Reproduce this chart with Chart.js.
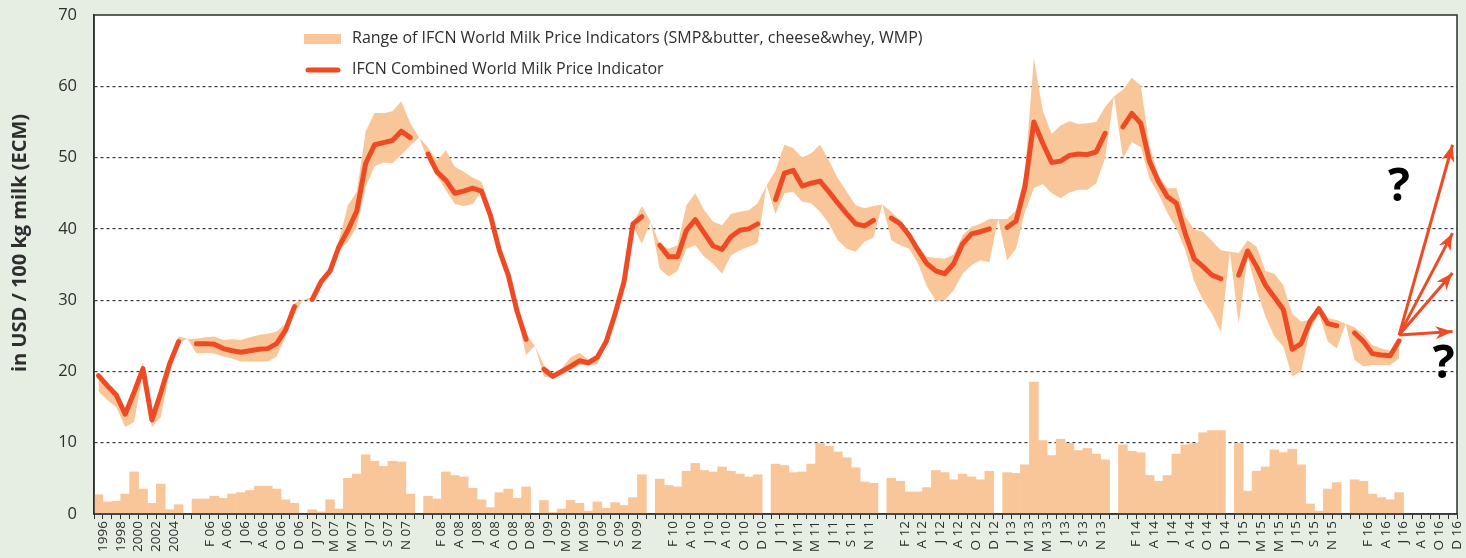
<!DOCTYPE html>
<html>
<head>
<meta charset="utf-8">
<script src="https://cdn.jsdelivr.net/npm/chart.js@4.4.1/dist/chart.umd.min.js"></script>
<style>
  html, body { margin: 0; padding: 0; background: #e6ede3; }
</style>
</head>
<body>
<canvas id="grafico" width="1466" height="558"></canvas>
<script>
// tick labels, one for every second tick of the month axis
const tickNames = [
  '1996', '1998', '2000', '2002', '2004', '',
  'F 06', 'A 06', 'J 06', 'A 06', 'O 06', 'D 06', 'J 07', 'M 07', 'M 07', 'J 07', 'S 07', 'N 07', '',
  'F 08', 'A 08', 'J 08', 'A 08', 'O 08', 'D 08', 'J 09', 'M 09', 'M 09', 'J 09', 'S 09', 'N 09', '',
  'F 10', 'A 10', 'J 10', 'A 10', 'O 10', 'D 10', 'J 11', 'M 11', 'M 11', 'J 11', 'S 11', 'N 11', '',
  'F 12', 'A 12', 'J 12', 'A 12', 'O 12', 'D 12', 'J 13', 'M 13', 'M 13', 'J 13', 'S 13', 'N 13', '',
  'F 14', 'A 14', 'J 14', 'A 14', 'O 14', 'D 14', 'J 15', 'M 15', 'M 15', 'J 15', 'S 15', 'N 15', '',
  'F 16', 'A 16', 'J 16', 'A 16', 'O 16', 'D 16'
];

// spread between indicators (bars at the bottom)
const spread = [
  2.7, 1.7, 1.8, 2.8, 5.9, 3.5, 1.5, 4.2, 0.6, 1.3, 0,
  2.1, 2.1, 2.5, 2.2, 2.8, 3.0, 3.3, 3.9, 3.9, 3.5, 2.0, 1.5, 0,
  0.6, 0.3, 2.0, 0.7, 5.0, 5.6, 8.3, 7.4, 6.7, 7.4, 7.3, 2.8, 0,
  2.5, 2.1, 5.9, 5.4, 5.2, 3.6, 2.0, 0.9, 3.0, 3.5, 2.2, 3.8, 0,
  1.9, 0.2, 0.7, 1.9, 1.5, 0.4, 1.7, 0.8, 1.6, 1.2, 2.3, 5.5, 0,
  4.9, 4.0, 3.8, 6.0, 7.1, 6.1, 5.9, 6.6, 6.0, 5.6, 5.2, 5.5, 0,
  7.0, 6.8, 5.8, 5.9, 7.0, 9.9, 9.5, 8.7, 7.9, 6.5, 4.5, 4.3, 0,
  5.0, 4.6, 3.1, 3.1, 3.7, 6.1, 5.8, 4.8, 5.6, 5.2, 4.8, 6.0, 0,
  5.8, 5.7, 6.9, 18.5, 10.3, 8.2, 10.5, 9.9, 8.9, 9.2, 8.4, 7.6, 0,
  9.7, 8.8, 8.6, 5.4, 4.6, 5.4, 8.4, 9.7, 9.9, 11.4, 11.7, 11.7, 0,
  9.9, 3.2, 6.0, 6.6, 9.0, 8.6, 9.1, 6.9, 1.4, 0.4, 3.5, 4.4, 0,
  4.8, 4.6, 2.8, 2.3, 2.0, 3.0, 0, 0, 0, 0, 0, 0
];

// IFCN combined world milk price indicator
const combined = [
  19.4, 18.0, 16.7, 14.0, 17.1, 20.4, 13.2, 17.0, 21.1, 24.2, null,
  23.9, 23.9, 23.8, 23.2, 22.9, 22.7, 22.9, 23.1, 23.2, 23.9, 25.8, 29.1, null,
  30.1, 32.6, 34.1, 37.5, 39.8, 42.5, 49.2, 51.8, 52.1, 52.4, 53.7, 52.8, null,
  50.5, 48.0, 46.8, 45.0, 45.3, 45.7, 45.3, 41.9, 37.0, 33.5, 28.4, 24.5, null,
  20.3, 19.3, 20.0, 20.7, 21.5, 21.2, 22.0, 24.2, 28.1, 32.6, 40.7, 41.7, null,
  37.7, 36.1, 36.1, 39.8, 41.3, 39.4, 37.6, 37.1, 38.9, 39.8, 40.0, 40.7, null,
  44.1, 47.8, 48.2, 46.0, 46.4, 46.7, 45.2, 43.6, 42.1, 40.7, 40.4, 41.2, null,
  41.5, 40.7, 39.1, 37.0, 35.1, 34.1, 33.7, 35.1, 37.9, 39.3, 39.6, 40.0, null,
  40.2, 41.1, 45.9, 55.0, 52.0, 49.3, 49.5, 50.3, 50.5, 50.4, 50.8, 53.4, null,
  54.3, 56.2, 54.8, 49.4, 46.6, 44.5, 43.6, 39.3, 35.8, 34.7, 33.5, 33.0, null,
  33.5, 36.9, 34.7, 32.1, 30.4, 28.7, 23.1, 23.9, 27.0, 28.8, 26.7, 26.4, null,
  25.4, 24.2, 22.5, 22.3, 22.2, 24.3, null, null, null, null, null, null
];

// range of the single indicators
const rangeLow = [
  17.2, 16.0, 15.0, 12.2, 12.9, 19.8, 12.2, 13.6, 20.0, 24.0, 24.6,
  22.5, 22.6, 22.5, 22.1, 21.8, 21.4, 21.4, 21.4, 21.4, 22.1, 24.9, 28.1, 30.1,
  29.9, 32.2, 33.7, 37.0, 38.2, 40.3, 45.9, 48.8, 49.3, 49.2, 50.4, 51.7, 52.8,
  49.6, 47.5, 45.4, 43.5, 43.2, 43.5, 45.2, 41.7, 36.1, 32.8, 27.7, 22.3, 23.6,
  19.3, 19.0, 19.5, 20.2, 20.9, 20.9, 21.0, 23.9, 27.9, 32.2, 40.3, 37.9, 41.0,
  34.4, 33.3, 34.1, 37.2, 37.7, 36.1, 35.1, 33.7, 36.3, 37.0, 37.5, 38.0, 46.1,
  42.1, 45.0, 45.2, 43.8, 43.6, 42.4, 40.7, 38.4, 37.2, 36.8, 38.2, 38.8, 43.4,
  38.4, 37.7, 37.2, 35.1, 31.9, 29.9, 30.0, 31.4, 33.7, 34.9, 35.6, 35.3, 41.4,
  35.6, 37.2, 42.4, 45.7, 46.3, 45.0, 44.3, 45.1, 45.5, 45.5, 46.4, 49.9, 58.6,
  49.9, 52.2, 51.5, 47.0, 44.9, 42.2, 40.1, 37.0, 32.6, 30.0, 28.1, 25.5, 36.8,
  26.7, 36.1, 31.4, 27.7, 24.9, 23.5, 19.3, 20.0, 25.8, 28.1, 24.2, 23.2, 26.7,
  21.6, 20.7, 20.9, 20.9, 20.9, 21.8, null, null, null, null, null, null
];
const rangeHigh = [
  19.8, 18.3, 17.0, 14.3, 17.8, 21.3, 13.5, 17.5, 21.5, 24.9, 24.6,
  24.6, 24.8, 24.9, 24.4, 24.5, 24.4, 24.8, 25.1, 25.3, 25.6, 26.7, 29.6, 30.1,
  30.4, 32.8, 34.4, 38.4, 43.3, 45.2, 53.7, 56.3, 56.2, 56.5, 57.9, 54.8, 52.8,
  51.4, 49.6, 51.0, 48.7, 48.0, 47.2, 46.6, 42.6, 37.5, 34.2, 29.1, 25.3, 23.6,
  20.9, 19.7, 20.4, 22.0, 22.6, 21.7, 22.3, 24.4, 28.4, 32.8, 40.8, 43.2, 41.0,
  37.9, 37.2, 37.7, 43.3, 45.0, 42.6, 41.0, 40.5, 42.1, 42.4, 42.6, 43.6, 46.1,
  48.2, 51.8, 51.3, 50.0, 50.6, 51.8, 49.6, 47.1, 45.2, 43.3, 42.9, 43.2, 43.4,
  42.4, 41.2, 39.3, 37.5, 36.1, 35.9, 35.8, 36.4, 39.1, 40.3, 40.7, 41.4, 41.4,
  41.4, 42.6, 47.8, 64.0, 56.6, 53.3, 54.5, 55.1, 54.7, 54.8, 55.0, 57.1, 58.6,
  59.5, 61.2, 60.1, 51.5, 47.5, 45.7, 45.7, 41.7, 39.9, 39.6, 38.3, 37.0, 36.8,
  36.6, 38.4, 37.5, 34.1, 33.7, 32.1, 28.1, 27.0, 27.2, 29.3, 27.5, 27.2, 26.7,
  26.2, 25.2, 23.7, 23.2, 22.9, 24.5, null, null, null, null, null, null
];

// outlook arrows: common start and end values
const arrowFrom = 146;
const arrowTo = 152;
const arrowStart = 25.1;
const arrowEnds = [51.8, 39.4, 33.8, 25.6];

// question marks placed at (month index, value)
const questionMarks = [[146, 45.7], [151, 20.9]];

const peach = '#f9c699';
const red = '#ee4a24';
const ink = '#2e2e2e';

const months = spread.map((v, k) => k);
const xLabels = [];
for (let i = 0; i <= months.length; i++) {
  xLabels.push(i % 2 ? tickNames[(i - 1) / 2] : '');
}

const arrowSets = arrowEnds.map(end => ({
  type: 'line',
  label: 'arrow',
  arrow: true,
  xAxisID: 'xb',
  data: months.map(k => k === arrowFrom ? arrowStart : (k === arrowTo ? end : null)),
  borderColor: red,
  borderWidth: 3,
  pointRadius: 0,
  spanGaps: true,
  order: 0
}));

const decor = {
  id: 'decor',
  beforeDraw(chart) {
    const {ctx, chartArea: a} = chart;
    ctx.save();
    ctx.fillStyle = '#e6ede3';
    ctx.fillRect(0, 0, chart.width, chart.height);
    ctx.fillStyle = '#ffffff';
    ctx.fillRect(a.left, a.top, a.right - a.left, a.bottom - a.top);
    ctx.restore();
  },
  afterDatasetsDraw(chart) {
    const ctx = chart.ctx;
    chart.data.datasets.forEach((ds, i) => {
      if (!ds.arrow) return;
      const pts = chart.getDatasetMeta(i).data;
      const p0 = pts[arrowFrom], p1 = pts[arrowTo];
      const ang = Math.atan2(p1.y - p0.y, p1.x - p0.x);
      ctx.save();
      ctx.translate(p1.x, p1.y);
      ctx.rotate(ang);
      ctx.fillStyle = red;
      ctx.beginPath();
      ctx.moveTo(0, 0);
      ctx.lineTo(-17, -6.5);
      ctx.lineTo(-12, 0);
      ctx.lineTo(-17, 6.5);
      ctx.closePath();
      ctx.fill();
      ctx.restore();
    });
  },
  afterDraw(chart) {
    const {ctx, chartArea: a, scales} = chart;
    ctx.save();
    // plot frame
    ctx.strokeStyle = ink;
    ctx.lineWidth = 1.5;
    ctx.strokeRect(a.left, a.top, a.right - a.left, a.bottom - a.top);

    // legend inside the plot
    const lx = a.left + 210;
    const range = chart.data.datasets[2];
    const line = chart.data.datasets[3];
    ctx.fillStyle = range.backgroundColor;
    ctx.fillRect(lx, a.top + 19, 37, 10);
    ctx.strokeStyle = line.borderColor;
    ctx.lineWidth = 5;
    ctx.lineCap = 'round';
    ctx.beginPath();
    ctx.moveTo(lx + 4, a.top + 55);
    ctx.lineTo(lx + 34, a.top + 55);
    ctx.stroke();
    ctx.fillStyle = ink;
    ctx.font = '16px "Open Sans"';
    ctx.textBaseline = 'middle';
    ctx.textAlign = 'left';
    ctx.fillText(range.label, lx + 48, a.top + 23);
    ctx.fillText(line.label, lx + 48, a.top + 54);

    // y axis title
    ctx.save();
    ctx.translate(20, 243);
    ctx.rotate(-Math.PI / 2);
    ctx.font = 'bold 20px "Open Sans"';
    ctx.textAlign = 'center';
    ctx.textBaseline = 'middle';
    ctx.fillStyle = ink;
    ctx.fillText('in USD / 100 kg milk (ECM)', 0, 0);
    ctx.restore();

    // question marks
    ctx.font = 'bold 46px "Open Sans"';
    ctx.textAlign = 'center';
    ctx.fillStyle = '#000';
    questionMarks.forEach(([k, v]) => {
      ctx.fillText('?', scales.xb.getPixelForValue(k), scales.y.getPixelForValue(v));
    });
    ctx.restore();
  }
};

new Chart(document.getElementById('grafico'), {
  data: {
    labels: months,
    datasets: [
      {
        type: 'bar',
        label: 'spread',
        xAxisID: 'xb',
        data: spread,
        backgroundColor: peach,
        barPercentage: 1,
        categoryPercentage: 1,
        order: 3
      },
      {
        type: 'line',
        label: 'low',
        xAxisID: 'xb',
        data: rangeLow,
        borderWidth: 0,
        borderColor: 'rgba(0,0,0,0)',
        pointRadius: 0,
        fill: false,
        order: 2
      },
      {
        type: 'line',
        label: 'Range of IFCN World Milk Price Indicators (SMP&butter, cheese&whey, WMP)',
        xAxisID: 'xb',
        data: rangeHigh,
        borderWidth: 0,
        borderColor: 'rgba(0,0,0,0)',
        backgroundColor: peach,
        pointRadius: 0,
        fill: '-1',
        order: 2
      },
      {
        type: 'line',
        label: 'IFCN Combined World Milk Price Indicator',
        xAxisID: 'xb',
        data: combined,
        borderColor: red,
        borderWidth: 5,
        borderCapStyle: 'round',
        borderJoinStyle: 'round',
        pointRadius: 0,
        spanGaps: false,
        fill: false,
        order: 1
      },
      ...arrowSets
    ]
  },
  options: {
    responsive: false,
    animation: false,
    layout: { padding: { top: 15, right: 9, bottom: 0, left: 0 } },
    plugins: {
      legend: { display: false },
      tooltip: { enabled: false }
    },
    scales: {
      x: {
        type: 'category',
        labels: xLabels,
        offset: false,
        position: 'bottom',
        grid: { drawOnChartArea: false, drawTicks: true, tickLength: 5, color: ink, lineWidth: 1 },
        border: { display: true, color: ink, width: 1.5 },
        ticks: {
          autoSkip: false, maxRotation: 90, minRotation: 90, padding: 2,
          color: ink, font: { family: 'Open Sans', size: 13.5 }
        },
        afterFit(scale) { scale.height = 44; scale.paddingLeft = 0; scale.paddingRight = 0; }
      },
      xb: {
        type: 'category',
        labels: months,
        offset: true,
        display: false
      },
      y: {
        min: 0,
        max: 70,
        ticks: { stepSize: 10, padding: 17, color: ink, font: { family: 'Open Sans', size: 16.5 } },
        grid: {
          drawTicks: false,
          lineWidth: 1.2,
          borderDash: [3, 3],
          color: c => (c.tick && (c.tick.value === 0 || c.tick.value === 70)) ? 'rgba(0,0,0,0)' : '#3a3a3a'
        },
        border: { display: true, color: ink, width: 1.5, dash: [3, 3] },
        afterFit(scale) { scale.width = 94; scale.paddingTop = 0; scale.paddingBottom = 0; }
      }
    }
  },
  plugins: [decor]
});
</script>
</body>
</html>
